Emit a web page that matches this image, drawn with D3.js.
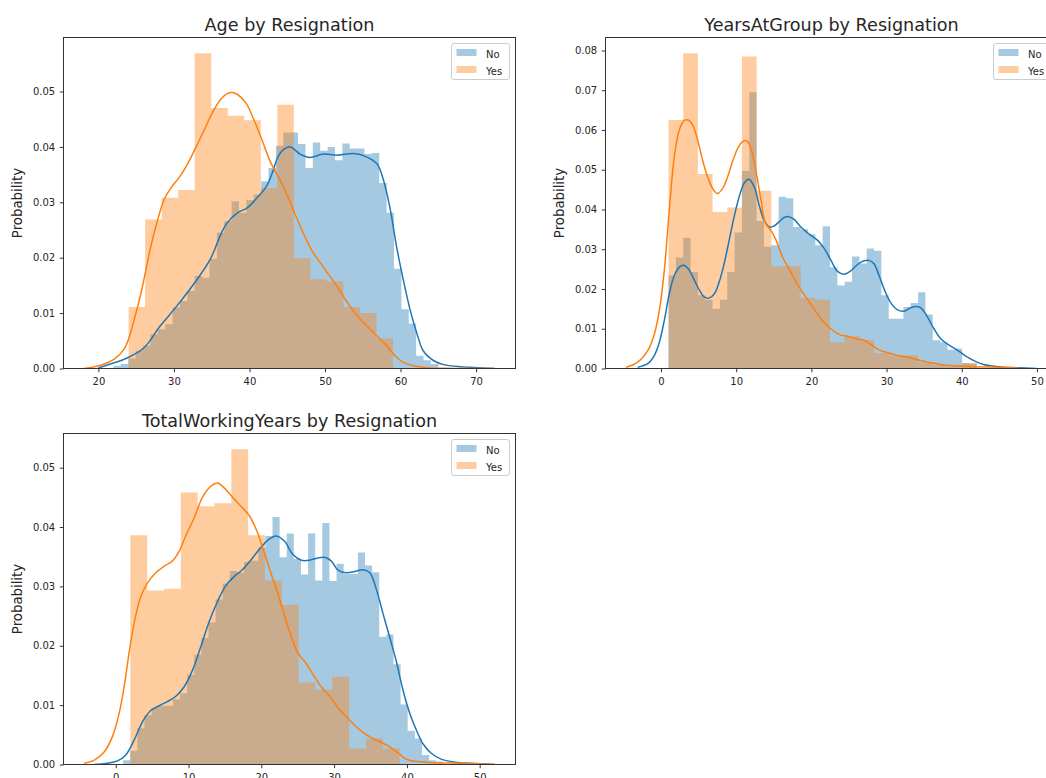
<!DOCTYPE html>
<html>
<head>
<meta charset="utf-8">
<script src="https://cdn.jsdelivr.net/npm/d3@7"></script>
<style>
  html, body { margin: 0; padding: 0; background: #ffffff; }
  svg { display: block; }
</style>
</head>
<body>
<svg id="chart" width="1046" height="778"></svg>
<script>
// ---------- Age ----------
const ageNoRange = [22, 65];
const ageNoDensity = [0.0005, 0.0008, 0.0018, 0.0032, 0.0041, 0.0062, 0.0071, 0.0080, 0.0110, 0.0122,
  0.0140, 0.0167, 0.0164, 0.0198, 0.0245, 0.0266, 0.0302, 0.0281, 0.0304, 0.0314,
  0.0338, 0.0362, 0.0402, 0.0426, 0.0426, 0.0405, 0.0362, 0.0408, 0.0393, 0.0400,
  0.0376, 0.0406, 0.0397, 0.0397, 0.0387, 0.0389, 0.0335, 0.0281, 0.0180, 0.0107,
  0.0081, 0.0023, 0.0015, 0.0008];
const ageYesRange = [24, 59];
const ageYesDensity = [0.0111, 0.0269, 0.0308, 0.0322, 0.0569, 0.0470, 0.0456, 0.0448,
  0.0326, 0.0476, 0.0199, 0.0161, 0.0157, 0.0111, 0.0100, 0.0054];
const ageNoKde = [[20.0, 0.0001], [21.6, 0.0008], [23.8, 0.0019], [26.0, 0.0037], [28.2, 0.0077],
  [30.4, 0.0113], [32.6, 0.0152], [34.8, 0.0197], [36.2, 0.0242], [37.0, 0.0262], [38.4, 0.0281],
  [39.7, 0.0290], [41.0, 0.0308], [42.3, 0.0330], [43.2, 0.0360], [43.7, 0.0380], [44.5, 0.0395],
  [45.4, 0.0400], [46.7, 0.0387], [48.0, 0.0381], [49.8, 0.0387], [51.6, 0.0385], [53.8, 0.0388],
  [55.5, 0.0382], [56.9, 0.0369], [57.7, 0.0342], [58.6, 0.0290], [59.5, 0.0218], [60.4, 0.0158],
  [61.3, 0.0104], [62.2, 0.0062], [63.0, 0.0032], [64.4, 0.0014], [65.7, 0.0007], [68.0, 0.0003],
  [72.5, 0.0]];
const ageYesKde = [[18.1, 0.0], [20.3, 0.0006], [22.1, 0.0017], [23.4, 0.0035], [24.06, 0.0056],
  [24.7, 0.0086], [25.6, 0.0134], [26.26, 0.0176], [26.9, 0.0218], [27.8, 0.0266], [28.7, 0.0305],
  [29.6, 0.0326], [30.66, 0.0344], [31.8, 0.0369], [32.9, 0.0399], [33.96, 0.0429], [35.1, 0.0462],
  [36.2, 0.0486], [37.05, 0.0496], [37.7, 0.0498], [38.37, 0.0495], [39.5, 0.0480], [40.56, 0.0450],
  [41.7, 0.0411], [42.8, 0.0372], [43.9, 0.0344], [44.96, 0.0314], [46.06, 0.0278], [47.2, 0.0242],
  [48.3, 0.0212], [49.36, 0.0191], [50.46, 0.0170], [51.56, 0.0149], [52.66, 0.0125], [53.76, 0.0104],
  [54.86, 0.0086], [55.96, 0.0071], [57.07, 0.0056], [58.17, 0.0041], [59.27, 0.0023], [60.37, 0.0011],
  [61.7, 0.0005], [63.47, 0.00015], [65.7, 0.00005], [72.3, 0.0]];
const ageXTicks = [20, 30, 40, 50, 60, 70];
const ageYTicks = [0, 0.01, 0.02, 0.03, 0.04, 0.05];

// ---------- YearsAtGroup ----------
const yagNoRange = [1, 42];
const yagNoDensity = [0.0234, 0.0279, 0.0329, 0.0243, 0.0184, 0.0173, 0.0150, 0.0173, 0.0243, 0.0342,
  0.0497, 0.0695, 0.0371, 0.0306, 0.0310, 0.0432, 0.0428, 0.0356, 0.0350, 0.0338,
  0.0310, 0.0358, 0.0255, 0.0209, 0.0218, 0.0282, 0.0264, 0.0302, 0.0296, 0.0184,
  0.0125, 0.0125, 0.0155, 0.0165, 0.0192, 0.0136, 0.0071, 0.0066, 0.0047, 0.0050,
  0.0014, 0.0012];
const yagYesRange = [1, 42];
const yagYesDensity = [0.0625, 0.0793, 0.0489, 0.0394, 0.0405, 0.0785, 0.0447, 0.0257, 0.0257, 0.0178,
  0.0173, 0.0066, 0.0081, 0.0071, 0.0039, 0.0033, 0.0033, 0.0016, 0.0009, 0.0005, 0.0014];
const yagNoKde = [[-3.1, 0.0003], [-1.77, 0.0012], [-0.88, 0.0033], [-0.22, 0.0066], [0.44, 0.0121],
  [1.1, 0.0188], [1.77, 0.0234], [2.43, 0.0255], [3.0, 0.0260], [3.63, 0.0251], [4.34, 0.0226],
  [5.1, 0.0197], [5.75, 0.0180], [6.4, 0.0177], [7.1, 0.0188], [7.74, 0.0218], [8.4, 0.0264],
  [9.07, 0.0323], [9.73, 0.0382], [10.4, 0.0432], [11.06, 0.0466], [11.7, 0.0476], [12.4, 0.0457],
  [13.05, 0.0411], [13.7, 0.0373], [14.4, 0.0356], [15.0, 0.0358], [15.7, 0.0369], [16.4, 0.0380],
  [17.0, 0.0382], [17.7, 0.0375], [18.6, 0.0356], [19.7, 0.0338], [20.8, 0.0323], [21.7, 0.0302],
  [22.6, 0.0272], [23.45, 0.0245], [24.3, 0.0237], [25.2, 0.0245], [26.1, 0.0261], [27.0, 0.0271],
  [27.65, 0.0272], [28.3, 0.0264], [29.0, 0.0234], [29.65, 0.0201], [30.5, 0.0167], [31.4, 0.0148],
  [32.3, 0.0144], [33.2, 0.0153], [34.1, 0.0156], [34.7, 0.0150], [35.4, 0.0131], [36.3, 0.0100],
  [37.2, 0.0075], [38.05, 0.0062], [38.9, 0.0052], [39.8, 0.0041], [40.7, 0.0029], [41.8, 0.0018],
  [42.9, 0.0010], [45.1, 0.0004], [47.3, 0.0002], [50.0, 0.0]];
const yagYesKde = [[-4.65, 0.0003], [-3.1, 0.0016], [-1.77, 0.0045], [-0.88, 0.0087], [-0.22, 0.0146],
  [0.44, 0.0247], [1.1, 0.0398], [1.77, 0.0533], [2.43, 0.0600], [3.1, 0.0624], [3.63, 0.0625],
  [4.2, 0.0613], [4.87, 0.0575], [5.53, 0.0524], [6.2, 0.0482], [6.86, 0.0453], [7.5, 0.0440],
  [8.2, 0.0453], [8.85, 0.0482], [9.5, 0.0520], [10.2, 0.0554], [10.84, 0.0571], [11.4, 0.0573],
  [11.95, 0.0554], [12.6, 0.0499], [13.3, 0.0424], [13.9, 0.0365], [14.6, 0.0348], [15.3, 0.0323],
  [16.15, 0.0281], [17.0, 0.0251], [18.1, 0.0213], [19.25, 0.0180], [20.35, 0.0150], [21.46, 0.0121],
  [22.57, 0.0100], [23.67, 0.0086], [24.8, 0.0081], [25.9, 0.0075], [27.0, 0.0071], [28.1, 0.0058],
  [29.2, 0.0045], [30.3, 0.0039], [31.4, 0.0033], [32.7, 0.0029], [34.1, 0.0022], [35.4, 0.0016],
  [36.7, 0.0012], [38.05, 0.0008], [39.8, 0.0006], [42.0, 0.0004], [45.1, 0.0003], [47.6, 0.0001]];
const yagXTicks = [0, 10, 20, 30, 40, 50];
const yagYTicks = [0, 0.01, 0.02, 0.03, 0.04, 0.05, 0.06, 0.07, 0.08];

// ---------- TotalWorkingYears ----------
const twyNoRange = [1, 45];
const twyNoDensity = [0.0007, 0.0023, 0.0061, 0.0083, 0.0095, 0.0099, 0.0099, 0.0110, 0.0120, 0.0151,
  0.0185, 0.0213, 0.0239, 0.0278, 0.0305, 0.0326, 0.0323, 0.0341, 0.0343, 0.0365,
  0.0385, 0.0417, 0.0349, 0.0389, 0.0346, 0.0320, 0.0389, 0.0310, 0.0407, 0.0309,
  0.0338, 0.0321, 0.0321, 0.0357, 0.0335, 0.0324, 0.0215, 0.0219, 0.0169, 0.0101,
  0.0057, 0.0044, 0.0016, 0.0007, 0.0005];
const twyYesRange = [2, 39];
const twyYesDensity = [0.0386, 0.0293, 0.0296, 0.0458, 0.0435, 0.0440, 0.0531, 0.0386,
  0.0310, 0.0269, 0.0138, 0.0126, 0.0148, 0.0027, 0.0044, 0.0027];
const twyNoKde = [[-3.0, 0.0], [-1.15, 0.0002], [0.23, 0.0006], [1.38, 0.0016], [2.52, 0.0041],
  [3.67, 0.0072], [4.8, 0.0091], [5.96, 0.0099], [7.1, 0.0106], [8.26, 0.0115], [9.4, 0.0131],
  [10.55, 0.0159], [11.7, 0.0199], [12.84, 0.0241], [14.0, 0.0275], [15.1, 0.0301], [16.3, 0.0317],
  [17.4, 0.0328], [18.6, 0.0345], [19.7, 0.0362], [20.9, 0.0378], [22.0, 0.0385], [23.2, 0.0376],
  [24.3, 0.0354], [25.5, 0.0344], [26.6, 0.0344], [27.75, 0.0348], [28.7, 0.0349], [29.6, 0.0343],
  [30.5, 0.0328], [31.65, 0.0323], [32.8, 0.0325], [33.9, 0.0328], [34.9, 0.0323], [35.8, 0.0295],
  [36.7, 0.0255], [37.6, 0.0216], [38.5, 0.0176], [39.45, 0.0126], [40.4, 0.0086], [41.3, 0.0058],
  [42.2, 0.0035], [43.35, 0.0019], [44.7, 0.0009], [46.6, 0.0004], [48.85, 0.0002], [52.1, 0.0]];
const twyYesKde = [[-4.36, 0.0002], [-3.0, 0.0007], [-1.6, 0.0021], [-0.46, 0.0047], [0.46, 0.0086],
  [1.15, 0.0131], [1.83, 0.0188], [2.52, 0.0238], [3.44, 0.0283], [4.36, 0.0306], [5.5, 0.0323],
  [6.65, 0.0334], [7.8, 0.0343], [8.7, 0.0359], [9.6, 0.0385], [10.8, 0.0416], [11.9, 0.0450],
  [13.07, 0.0469], [14.0, 0.0474], [14.9, 0.0466], [16.05, 0.0450], [17.2, 0.0435], [18.35, 0.0419],
  [19.5, 0.0390], [20.4, 0.0357], [21.3, 0.0323], [22.25, 0.0289], [23.2, 0.0250], [24.1, 0.0216],
  [25.0, 0.0188], [26.1, 0.0171], [27.3, 0.0148], [28.4, 0.0128], [29.6, 0.0112], [30.7, 0.0093],
  [31.9, 0.0078], [33.0, 0.0064], [34.2, 0.0052], [35.3, 0.0044], [36.5, 0.0037], [37.6, 0.0030],
  [38.8, 0.0019], [40.1, 0.0008], [41.5, 0.0005], [43.8, 0.0003], [47.5, 0.0002], [52.1, 0.0]];
const twyXTicks = [0, 10, 20, 30, 40, 50];
const twyYTicks = [0, 0.01, 0.02, 0.03, 0.04, 0.05];

const legendLabels = ["No", "Yes"];

// ---------- drawing ----------
const NO_COLOR = "#1f77b4";
const YES_COLOR = "#ff7f0e";
const FONT = "'DejaVu Sans', sans-serif";
const TEXT_COLOR = "#262626";
const svg = d3.select("#chart");

const panels = [
  { title: "Age by Resignation", left: 63, top: 37,
    noRange: ageNoRange, noDensity: ageNoDensity, yesRange: ageYesRange, yesDensity: ageYesDensity,
    noKde: ageNoKde, yesKde: ageYesKde, xTicks: ageXTicks, yTicks: ageYTicks },
  { title: "YearsAtGroup by Resignation", left: 605, top: 37,
    noRange: yagNoRange, noDensity: yagNoDensity, yesRange: yagYesRange, yesDensity: yagYesDensity,
    noKde: yagNoKde, yesKde: yagYesKde, xTicks: yagXTicks, yTicks: yagYTicks },
  { title: "TotalWorkingYears by Resignation", left: 63, top: 433,
    noRange: twyNoRange, noDensity: twyNoDensity, yesRange: twyYesRange, yesDensity: twyYesDensity,
    noKde: twyNoKde, yesKde: twyYesKde, xTicks: twyXTicks, yTicks: twyYTicks }
];
const PW = 452, PH = 331;

// step outline of a histogram: one point per bin start, plus the closing edge
function histPoints(range, dens) {
  const n = dens.length, w = (range[1] - range[0]) / n;
  const pts = dens.map((d, i) => [range[0] + i * w, d]);
  pts.push([range[1], dens[n - 1]]);
  return pts;
}

panels.forEach((p, idx) => {
  const g = svg.append("g").attr("transform", `translate(${p.left + 0.5},${p.top + 0.5})`);

  const xs = [...p.noKde.map(d => d[0]), ...p.yesKde.map(d => d[0]), ...p.noRange, ...p.yesRange];
  const [lo, hi] = d3.extent(xs);
  const pad = (hi - lo) * 0.05;
  const x = d3.scaleLinear().domain([lo - pad, hi + pad]).range([0, PW]);
  const ymax = d3.max([...p.noDensity, ...p.yesDensity]);
  const y = d3.scaleLinear().domain([0, ymax * 1.05]).range([PH, 0]);

  const clipId = "clip" + idx;
  g.append("clipPath").attr("id", clipId)
    .append("rect").attr("width", PW).attr("height", PH);
  const plot = g.append("g").attr("clip-path", `url(#${clipId})`);

  const area = d3.area().curve(d3.curveStepAfter)
    .x(d => x(d[0])).y0(y(0)).y1(d => y(d[1]));
  plot.append("path").datum(histPoints(p.noRange, p.noDensity))
    .attr("d", area).attr("fill", NO_COLOR).attr("fill-opacity", 0.4);
  plot.append("path").datum(histPoints(p.yesRange, p.yesDensity))
    .attr("d", area).attr("fill", YES_COLOR).attr("fill-opacity", 0.4);

  const line = d3.line().curve(d3.curveCatmullRom.alpha(0.5))
    .x(d => x(d[0])).y(d => y(d[1]));
  plot.append("path").datum(p.noKde).attr("d", line)
    .attr("fill", "none").attr("stroke", NO_COLOR).attr("stroke-width", 1.5);
  plot.append("path").datum(p.yesKde).attr("d", line)
    .attr("fill", "none").attr("stroke", YES_COLOR).attr("stroke-width", 1.5);

  // axes
  const yAxis = g.append("g")
    .call(d3.axisLeft(y).tickValues(p.yTicks).tickFormat(d3.format(".2f"))
      .tickSize(3.7).tickPadding(4.6));
  const xAxis = g.append("g").attr("transform", `translate(0,${PH})`)
    .call(d3.axisBottom(x).tickValues(p.xTicks).tickFormat(d3.format("d"))
      .tickSize(3.7).tickPadding(5.7));
  [yAxis, xAxis].forEach(a => {
    a.select(".domain").remove();
    a.attr("font-family", FONT).attr("font-size", 10);
    a.selectAll(".tick line").attr("stroke", "#333");
    a.selectAll(".tick text").attr("fill", TEXT_COLOR);
  });

  // frame
  g.append("rect").attr("width", PW).attr("height", PH)
    .attr("fill", "none").attr("stroke", "#333").attr("stroke-width", 1);

  // title
  g.append("text").attr("x", PW / 2).attr("y", -6.5)
    .attr("text-anchor", "middle").attr("font-family", FONT).attr("font-size", 17.6)
    .attr("fill", TEXT_COLOR).text(p.title);

  // y label
  g.append("text").attr("transform", `translate(-41.5,${PH / 2}) rotate(-90)`)
    .attr("text-anchor", "middle").attr("font-family", FONT).attr("font-size", 13.3)
    .attr("fill", TEXT_COLOR).text("Probability");

  // legend
  const lg = g.append("g").attr("transform", `translate(${PW - 64},6)`);
  lg.append("rect").attr("width", 58).attr("height", 36).attr("rx", 2.5)
    .attr("fill", "#fff").attr("fill-opacity", 0.8).attr("stroke", "#cccccc").attr("stroke-width", 1);
  [NO_COLOR, YES_COLOR].forEach((c, i) => {
    lg.append("rect").attr("x", 5).attr("y", 5.5 + i * 17).attr("width", 20).attr("height", 7)
      .attr("fill", c).attr("fill-opacity", 0.4);
    lg.append("text").attr("x", 34.5).attr("y", 14 + i * 17)
      .attr("font-family", FONT).attr("font-size", 10).attr("fill", TEXT_COLOR)
      .text(legendLabels[i]);
  });
});
</script>
</body>
</html>
